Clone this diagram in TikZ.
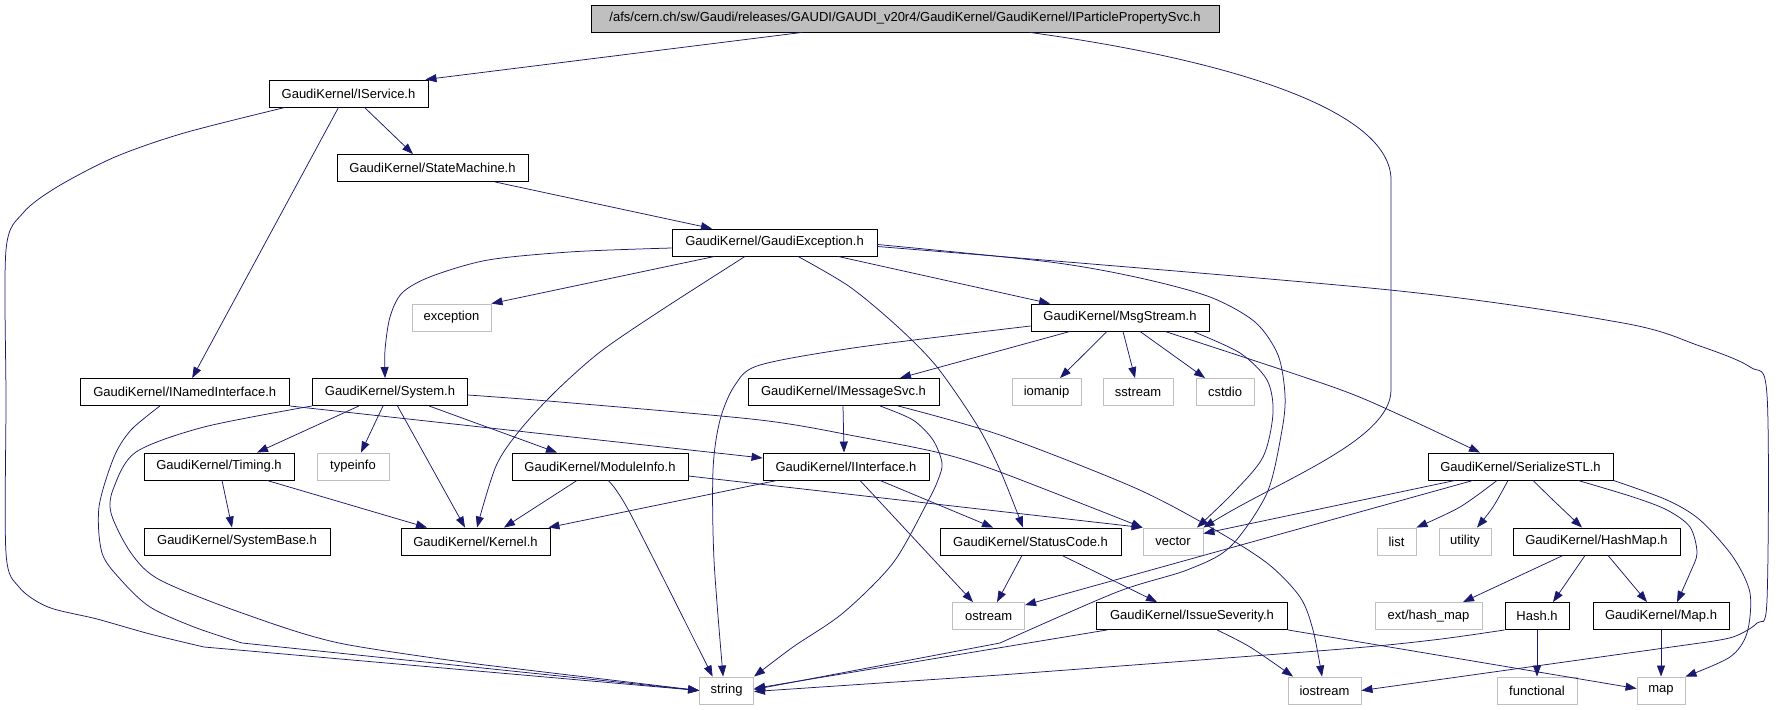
\documentclass[tikz,border=0pt]{standalone}
\usepackage{fontspec}
\setmainfont{Liberation Sans}
\usetikzlibrary{arrows.meta}
\definecolor{edgec}{HTML}{191970}
\definecolor{sysgray}{HTML}{BFBFBF}
\definecolor{rootfill}{HTML}{BFBFBF}
\tikzset{
  hdr/.style={draw=black, line width=0.9pt, minimum height=27pt, inner sep=0pt, text=black,
     font=\fontsize{13pt}{15pt}\selectfont},
  syshdr/.style={hdr, draw=sysgray},
  e/.style={draw=edgec, line width=0.75pt, -{Triangle[length=11pt,width=8pt]}},
}
\begin{document}
\begin{tikzpicture}[x=1pt,y=-1pt]
\useasboundingbox (0,0) rectangle (1776,709);
% nodes
\node[hdr, fill=rootfill, minimum width=628pt] (root) at (905,18.5) {/afs/cern.ch/sw/Gaudi/releases/GAUDI/GAUDI\_v20r4/GaudiKernel/GaudiKernel/IParticlePropertySvc.h};
\node[hdr, minimum width=159pt] (isvc) at (348.5,93.5) {GaudiKernel/IService.h};
\node[hdr, minimum width=191pt] (sm) at (432.5,168) {GaudiKernel/StateMachine.h};
\node[hdr, minimum width=205pt] (gexc) at (774.5,242.5) {GaudiKernel/GaudiException.h};
\node[syshdr, minimum width=79pt] (exc) at (451.5,317.5) {exception};
\node[hdr, minimum width=178pt] (msg) at (1120,317.5) {GaudiKernel/MsgStream.h};
\node[hdr, minimum width=209pt] (inamed) at (184.7,392) {GaudiKernel/INamedInterface.h};
\node[hdr, minimum width=155pt] (sys) at (390,392) {GaudiKernel/System.h};
\node[hdr, minimum width=191pt] (imsg) at (843.5,392) {GaudiKernel/IMessageSvc.h};
\node[syshdr, minimum width=69pt] (iomanip) at (1046.5,392) {iomanip};
\node[syshdr, minimum width=70pt] (sstream) at (1138,392) {sstream};
\node[syshdr, minimum width=58pt] (cstdio) at (1225,392) {cstdio};
\node[hdr, minimum width=150pt] (timing) at (219,466.5) {GaudiKernel/Timing.h};
\node[syshdr, minimum width=72pt] (typeinfo) at (353,466.5) {typeinfo};
\node[hdr, minimum width=176pt] (modinfo) at (600,466.5) {GaudiKernel/ModuleInfo.h};
\node[hdr, minimum width=166pt] (iintf) at (846,466.5) {GaudiKernel/IInterface.h};
\node[hdr, minimum width=185pt] (sstl) at (1520.5,466.5) {GaudiKernel/SerializeSTL.h};
\node[hdr, minimum width=186pt] (sysbase) at (237,541.5) {GaudiKernel/SystemBase.h};
\node[hdr, minimum width=149pt] (kernel) at (475.5,541.5) {GaudiKernel/Kernel.h};
\node[hdr, minimum width=181pt] (statcode) at (1030.5,541.5) {GaudiKernel/StatusCode.h};
\node[syshdr, minimum width=60pt] (vector) at (1173,541.5) {vector};
\node[syshdr, minimum width=39pt] (list) at (1396.5,541.5) {list};
\node[syshdr, minimum width=52pt] (utility) at (1465,541.5) {utility};
\node[hdr, minimum width=167pt] (hashmap) at (1596.5,541.5) {GaudiKernel/HashMap.h};
\node[syshdr, minimum width=72pt] (ostream) at (988.6,616) {ostream};
\node[hdr, minimum width=191pt] (issue) at (1192,616) {GaudiKernel/IssueSeverity.h};
\node[syshdr, minimum width=107pt] (exthash) at (1428.5,616) {ext/hash\_map};
\node[hdr, minimum width=64pt] (hash) at (1537,616) {Hash.h};
\node[hdr, minimum width=136pt] (map) at (1661,616) {GaudiKernel/Map.h};
\node[syshdr, minimum width=54pt] (string) at (726.6,690.5) {string};
\node[syshdr, minimum width=73pt] (iostream) at (1324.5,690.5) {iostream};
\node[syshdr, minimum width=80pt] (functional) at (1537,690.5) {functional};
\node[syshdr, minimum width=48pt] (stdmap) at (1661,690.5) {map};

% root
\draw[e] ([xshift=-103pt]root.south) -- ([xshift=-3pt]isvc.north east);
\draw[e] ([xshift=125pt]root.south) .. controls (1230,60) and (1391,110) .. (1391,180) -- (1391,390) .. controls (1391,440) and (1280,480) .. (vector.north east);
% IService
\draw[e] plot[smooth] coordinates {([xshift=-63.5pt]isvc.south) (184,133) (115,157) (57,187) (23,213) (6,250) (6,400) (6,553) (19,587) (48,607) (97,619) (150,634) (204,647)} -- (string.west);
\draw[e] ([xshift=-10pt]isvc.south) -- ([xshift=7.5pt]inamed.north);
\draw[e] ([xshift=16pt]isvc.south) -- ([xshift=-19.5pt]sm.north);
% StateMachine
\draw[e] ([xshift=62.5pt]sm.south) -- ([xshift=-62.5pt]gexc.north);
% GaudiException
\draw[e] plot[smooth] coordinates {([yshift=-5.5pt]gexc.west) (574,251.7) (488,260) (430.5,276.7) (402,293) (390,317) (385,350) ([xshift=-5pt]sys.north)};
\draw[e] ([xshift=-60pt]gexc.south) -- (exc.north east);
\draw[e] plot[smooth] coordinates {([xshift=-29.5pt]gexc.south) (660,311) (600,352) (555,392) (520,430) (496,466) ([xshift=1.5pt]kernel.north)};
\draw[e] plot[smooth] coordinates {([xshift=23.5pt]gexc.south) (849.6,286.7) (898,327) (937,367) (977,425) (1000,470) ([xshift=-7.5pt]statcode.north)};
\draw[e] ([xshift=63.5pt]gexc.south) -- ([xshift=-70pt]msg.north);
\draw[e] plot[smooth] coordinates {([yshift=-2pt]gexc.east) (1050,262) (1140,278) (1210,297) (1255,322) (1278,355) (1285,395) (1282,430) (1267,493) (1230,547) (1187,570) (1117,592) (1000,643)} -- ([yshift=1pt]string.east);
\draw[e] plot[smooth] coordinates {([yshift=-4pt]gexc.east) (1390,290) (1623,323) (1697,345) (1750,367) (1767,395) (1767,600) (1757,623) (1733,637) (1700,643)} -- (iostream.east);
% MsgStream
\draw[e] plot[smooth] coordinates {([yshift=-8.5pt]msg.west) (860,347) (760,365) (735,385) (720,420) (713,470) (714,560) ([xshift=-3.5pt]string.north)};
\draw[e] ([xshift=-50pt]msg.south) -- ([xshift=56.5pt]imsg.north);
\draw[e] ([xshift=-13pt]msg.south) -- ([xshift=13.5pt]iomanip.north);
\draw[e] ([xshift=3pt]msg.south) -- ([xshift=-3pt]sstream.north);
\draw[e] ([xshift=20pt]msg.south) -- ([xshift=-20pt]cstdio.north);
\draw[e] plot[smooth] coordinates {([xshift=45pt]msg.south) (1333,387) (1400,415) ([xshift=-40.5pt]sstl.north)};
\draw[e] plot[smooth] coordinates {([xshift=73pt]msg.south) (1240,353) (1267,380) (1273,413) (1263,457) (1233,493) ([xshift=24pt]vector.north)};
% IMessageSvc
\draw[e] ([xshift=-0.5pt]imsg.south) -- ([xshift=-2pt]iintf.north);
\draw[e] plot[smooth] coordinates {([xshift=36.5pt]imsg.south) (913,420) (933,440) (942,463) (938,480) (927,503) (893,563) (843,613) (793,647) (string.north east)};
\draw[e] plot[smooth] coordinates {([xshift=54.5pt]imsg.south) (1000,435) (1133,487) (1210,527) (1267,563) (1300,597) (1313,630) ([xshift=-2.5pt]iostream.north)};
% INamedInterface
\draw[e] plot[smooth] coordinates {([xshift=-24.7pt]inamed.south) (131,430) (114,457) (99,507) (102,553) (121,580) (150,607) (194,627) (242,643)} -- (string.west);
\draw[e] (inamed.south east) -- ([yshift=8.5pt]iintf.west);
% System
\draw[e] plot[smooth] coordinates {(sys.south west) (204,427) (136,452) (114,487) (111,513) (131,553) (160,580) (242,613) (339,643) (485,665)} -- (string.west);
\draw[e] ([xshift=-31pt]sys.south) -- ([xshift=38pt]timing.north);
\draw[e] ([xshift=-7pt]sys.south) -- ([xshift=8pt]typeinfo.north);
\draw[e] ([xshift=7.5pt]sys.south) -- ([xshift=-10.5pt]kernel.north);
\draw[e] ([xshift=39pt]sys.south) -- ([xshift=-43pt]modinfo.north);
\draw[e] plot[smooth] coordinates {([yshift=-3pt]sys.east) (560,402) (760,420) (860,437) (940,453) (1000,472) (vector.north west)};
% ModuleInfo
\draw[e] ([yshift=-9.5pt]modinfo.east) -- (vector.north west);
\draw[e] ([xshift=-23pt]modinfo.south) -- ([xshift=28.5pt]kernel.north);
\draw[e] plot[smooth] coordinates {([xshift=8pt]modinfo.south) (630,513) ([xshift=-14pt]string.north)};
% Timing
\draw[e] ([xshift=3pt]timing.south) -- ([xshift=-5pt]sysbase.north);
\draw[e] ([xshift=48pt]timing.south) -- ([xshift=-48.5pt]kernel.north);
% IInterface
\draw[e] ([xshift=-69pt]iintf.south) -- ([xshift=-2pt]kernel.north east);
\draw[e] ([xshift=34pt]iintf.south) -- ([xshift=-37.5pt]statcode.north);
\draw[e] ([xshift=14pt]iintf.south) -- ([xshift=-15.6pt]ostream.north);
% StatusCode
\draw[e] ([xshift=-8.5pt]statcode.south) -- ([xshift=8.4pt]ostream.north);
\draw[e] ([xshift=31.5pt]statcode.south) -- ([xshift=-35pt]issue.north);
% IssueSeverity
\draw[e] ([xshift=-85pt]issue.south) -- ([yshift=2pt]string.east);
\draw[e] plot[smooth] coordinates {([xshift=25pt]issue.south) (1250,647) ([xshift=-31.5pt]iostream.north)};
\draw[e] (issue.south east) -- ([yshift=2pt]stdmap.west);
% Hash, Map
\draw[e] plot[smooth] coordinates {(hash.south west) (1433,640) (1330,650) (1000,675)} -- ([yshift=-1pt]string.east);
\draw[e] (hash.south) -- (functional.north);
\draw[e] (map.south) -- (stdmap.north);
% HashMap
\draw[e] ([xshift=-33.5pt]hashmap.south) -- ([xshift=34.5pt]exthash.north);
\draw[e] ([xshift=-11.5pt]hashmap.south) -- ([xshift=16pt]hash.north);
\draw[e] ([xshift=11.5pt]hashmap.south) -- ([xshift=-14pt]map.north);
% SerializeSTL
\draw[e] ([xshift=-65.5pt]sstl.south) -- ([yshift=8pt]vector.east);
\draw[e] ([xshift=-47.5pt]sstl.south) -- ([yshift=-3pt]ostream.north east);
\draw[e] plot[smooth] coordinates {([xshift=-23.5pt]sstl.south) (1460,507) (list.north east)};
\draw[e] plot[smooth] coordinates {([xshift=-12.5pt]sstl.south) (1493,507) ([xshift=12pt]utility.north)};
\draw[e] plot[smooth] coordinates {([xshift=12.5pt]sstl.south) (1553,500) ([xshift=-14.5pt]hashmap.north)};
\draw[e] plot[smooth] coordinates {([xshift=57.5pt]sstl.south) (1633,497) (1667,510) (1690,527) (1697,553) (1690,573) ([xshift=16pt]map.north)};
\draw[e] plot[smooth] coordinates {(sstl.south east) (1667,500) (1700,520) (1733,557) (1750,593) (1747,633) (1730,657) (stdmap.north east)};
\end{tikzpicture}
\end{document}
